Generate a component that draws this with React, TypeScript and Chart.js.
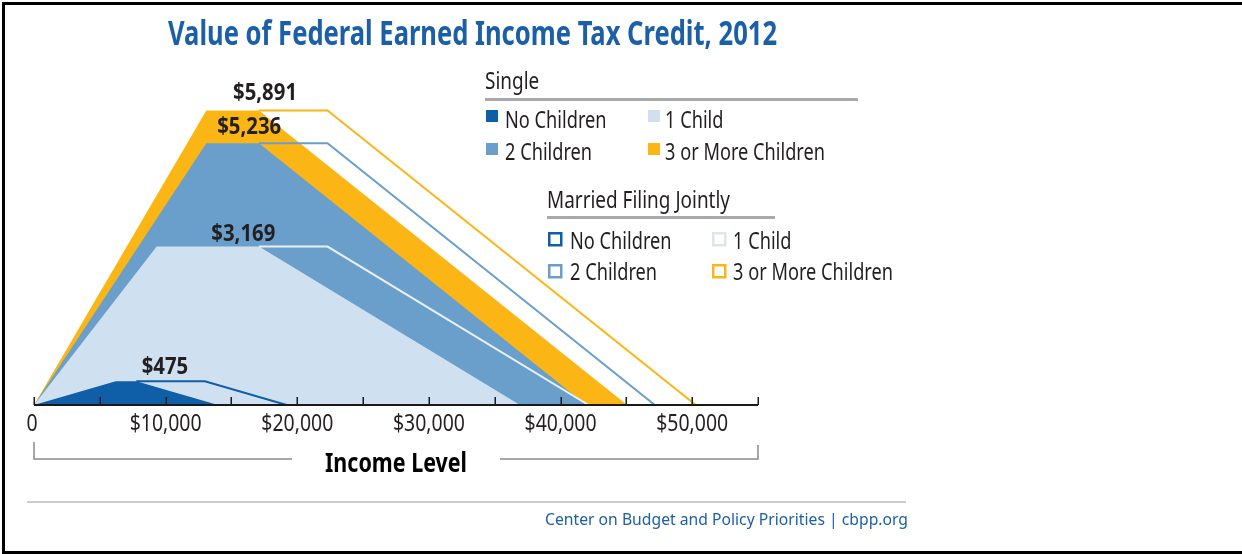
import React, { useEffect, useRef } from "react";
import { Chart, registerables } from "chart.js";

Chart.register(...registerables);

const W = 1242;
const H = 554;

// ---- Data (income in dollars, credit in dollars) ----
const singleNoChildIncome = [0, 6210, 7770, 13980];
const singleNoChildCredit = [0, 475, 475, 0];
const singleOneChildIncome = [0, 9320, 17090, 36920];
const singleOneChildCredit = [0, 3169, 3169, 0];
const singleTwoChildIncome = [0, 13090, 17090, 41952];
const singleTwoChildCredit = [0, 5236, 5236, 0];
const singleThreeChildIncome = [0, 13090, 17090, 45060];
const singleThreeChildCredit = [0, 5891, 5891, 0];

const marriedNoChildIncome = [7770, 12980, 19190];
const marriedNoChildCredit = [475, 475, 0];
const marriedOneChildIncome = [17090, 22300, 42130];
const marriedOneChildCredit = [3169, 3169, 0];
const marriedTwoChildIncome = [17090, 22300, 47162];
const marriedTwoChildCredit = [5236, 5236, 0];
const marriedThreeChildIncome = [17090, 22300, 50270];
const marriedThreeChildCredit = [5891, 5891, 0];

const tickValues = [0, 10000, 20000, 30000, 40000, 50000];
const tickLabels = ["0", "$10,000", "$20,000", "$30,000", "$40,000", "$50,000"];
const minorTickStep = 5000;
const incomeMax = 55000;
const creditMax = 6000;

const peakCredits = [5891, 5236, 3169, 475];
const peakLabels = peakCredits.map((v) => "$" + v.toLocaleString("en-US"));

const seriesNames = ["No Children", "1 Child", "2 Children", "3 or More Children"];
const filingStatuses = ["Single", "Married Filing Jointly"];
const chartTitle = "Value of Federal Earned Income Tax Credit, 2012";
const axisTitle = "Income Level";
const sourceNote = "Center on Budget and Policy Priorities | cbpp.org";

// ---- Styles ----
const DARK = "#0F5EA8";
const LIGHT = "#CFE1F0";
const MED = "#6B9FCB";
const GOLD = "#FBB616";
const LIGHT_LINE = "#E8F0F8";
const TEXT = "#231F20";
const BRAND = "#1B5FA6";
const FAMILY = '"Noto Sans", "Open Sans", sans-serif';

const pts = (xs: number[], ys: number[]) => xs.map((x, i) => ({ x, y: ys[i] }));

function fitScale(ctx: CanvasRenderingContext2D, font: string, text: string, target: number) {
  ctx.save();
  ctx.font = font;
  const w = ctx.measureText(text).width;
  ctx.restore();
  return target / w;
}

function drawText(
  ctx: CanvasRenderingContext2D,
  text: string,
  x: number,
  baseline: number,
  font: string,
  color: string,
  sx: number,
  align: "left" | "center" | "right" = "left"
) {
  ctx.save();
  ctx.font = font;
  ctx.fillStyle = color;
  ctx.textBaseline = "alphabetic";
  ctx.textAlign = "left";
  const w = ctx.measureText(text).width * sx;
  let left = x;
  if (align === "center") left = x - w / 2;
  if (align === "right") left = x - w;
  ctx.translate(left, baseline);
  ctx.scale(sx, 1);
  ctx.fillText(text, 0, 0);
  ctx.restore();
}

const decorPlugin = {
  id: "eitcDecor",
  beforeDraw(chart: any) {
    const ctx = chart.ctx as CanvasRenderingContext2D;
    ctx.save();
    ctx.fillStyle = "#ffffff";
    ctx.fillRect(0, 0, chart.width, chart.height);
    ctx.restore();
  },
  afterDatasetsDraw(chart: any) {
    const ctx = chart.ctx as CanvasRenderingContext2D;
    const xs = chart.scales.x;
    const ys = chart.scales.y;
    const y0 = ys.getPixelForValue(0);
    ctx.save();
    ctx.strokeStyle = "#1a1a1a";
    ctx.lineWidth = 2;
    ctx.beginPath();
    ctx.moveTo(xs.getPixelForValue(0), y0);
    ctx.lineTo(xs.getPixelForValue(incomeMax), y0);
    ctx.stroke();
    ctx.lineWidth = 1.5;
    for (let v = 0; v <= incomeMax; v += minorTickStep) {
      const px = Math.round(xs.getPixelForValue(v)) + 0.25;
      ctx.beginPath();
      ctx.moveTo(px, y0);
      ctx.lineTo(px, y0 - 8);
      ctx.stroke();
    }
    ctx.restore();
  },
  afterDraw(chart: any) {
    const ctx = chart.ctx as CanvasRenderingContext2D;
    const xs = chart.scales.x;
    const ys = chart.scales.y;

    // frame
    ctx.save();
    ctx.fillStyle = "#000";
    ctx.fillRect(2, 2, W - 2, 3);
    ctx.fillRect(2, 2, 3, H - 4);
    ctx.fillRect(2, H - 3, W - 2, 3);
    ctx.restore();

    // title
    const titleFont = `bold 34px ${FAMILY}`;
    drawText(ctx, chartTitle, 168, 45, titleFont, BRAND, fitScale(ctx, titleFont, chartTitle, 609));

    // peak value labels
    const valFont = `bold 23px ${FAMILY}`;
    const valSx = fitScale(ctx, valFont, peakLabels[0], 64);
    const labelIncome = [17550, 16350, 15900, 9950];
    const labelLift = [10, 9, 6, 7];
    peakCredits.forEach((c, i) => {
      drawText(ctx, peakLabels[i], xs.getPixelForValue(labelIncome[i]), ys.getPixelForValue(c) - labelLift[i], valFont, TEXT, valSx, "center");
    });

    // tick labels
    const tickFont = `24px ${FAMILY}`;
    const tickSx = fitScale(ctx, tickFont, tickLabels[1], 72);
    tickValues.forEach((v, i) => {
      drawText(ctx, tickLabels[i], xs.getPixelForValue(v) - (i === 0 ? 2 : 0), 431, tickFont, TEXT, tickSx, "center");
    });

    // bracket + axis title
    const x0 = xs.getPixelForValue(0);
    const x1 = xs.getPixelForValue(incomeMax);
    ctx.save();
    ctx.strokeStyle = "#8a8a8a";
    ctx.lineWidth = 1.5;
    ctx.beginPath();
    ctx.moveTo(x0, 442);
    ctx.lineTo(x0, 459);
    ctx.lineTo(292, 459);
    ctx.moveTo(500, 459);
    ctx.lineTo(x1, 459);
    ctx.lineTo(x1, 445);
    ctx.stroke();
    ctx.restore();
    const axFont = `bold 26px ${FAMILY}`;
    drawText(ctx, axisTitle, 396, 472, axFont, "#000", fitScale(ctx, axFont, axisTitle, 142), "center");

    // legend
    const legFont = `24px ${FAMILY}`;
    const legSx = fitScale(ctx, legFont, seriesNames[3], 160);
    const headSx = fitScale(ctx, legFont, filingStatuses[1], 183);
    const colors = [DARK, LIGHT, MED, GOLD];

    // Single
    drawText(ctx, filingStatuses[0], 485, 89, legFont, TEXT, headSx);
    ctx.save();
    ctx.strokeStyle = "#A7A9AC";
    ctx.lineWidth = 3;
    ctx.beginPath();
    ctx.moveTo(485, 99.5);
    ctx.lineTo(858, 99.5);
    ctx.moveTo(547, 217.5);
    ctx.lineTo(775, 217.5);
    ctx.stroke();
    ctx.restore();

    const sCols = [
      { sq: 486, tx: 505 },
      { sq: 648, tx: 665 },
    ];
    const sRows = [{ sq: 110, base: 128 }, { sq: 143, base: 160 }];
    seriesNames.forEach((name, i) => {
      const c = sCols[i % 2];
      const r = sRows[Math.floor(i / 2)];
      ctx.save();
      ctx.fillStyle = colors[i];
      ctx.fillRect(c.sq, r.sq, 12, 12);
      ctx.restore();
      drawText(ctx, name, c.tx, r.base, legFont, TEXT, legSx);
    });

    // Married
    drawText(ctx, filingStatuses[1], 547, 208, legFont, TEXT, headSx);
    const mCols = [
      { sq: 548, tx: 570 },
      { sq: 712, tx: 733 },
    ];
    const mRows = [{ sq: 232, base: 249 }, { sq: 264, base: 280 }];
    const mColors = [DARK, "#D9E6F2", MED, GOLD];
    seriesNames.forEach((name, i) => {
      const c = mCols[i % 2];
      const r = mRows[Math.floor(i / 2)];
      ctx.save();
      ctx.strokeStyle = mColors[i];
      ctx.lineWidth = 2.5;
      ctx.strokeRect(c.sq + 1.25, r.sq + 1.25, 12, 12);
      ctx.restore();
      drawText(ctx, name, c.tx, r.base, legFont, TEXT, legSx);
    });

    // source
    ctx.save();
    ctx.strokeStyle = "#CCCCCC";
    ctx.lineWidth = 2;
    ctx.beginPath();
    ctx.moveTo(27, 502);
    ctx.lineTo(906, 502);
    ctx.stroke();
    ctx.restore();
    const srcFont = `16px ${FAMILY}`;
    drawText(ctx, sourceNote, 908, 525, srcFont, BRAND, fitScale(ctx, srcFont, sourceNote, 363), "right");
  },
};

export default function App() {
  const ref = useRef<HTMLCanvasElement | null>(null);

  useEffect(() => {
    if (!ref.current) return;
    const fillDs = (xs: number[], ys: number[], color: string) => ({
      type: "line" as const,
      data: pts(xs, ys),
      backgroundColor: color,
      borderColor: "rgba(0,0,0,0)",
      borderWidth: 0,
      pointRadius: 0,
      fill: "origin",
      tension: 0,
    });
    const lineDs = (xs: number[], ys: number[], color: string) => ({
      type: "line" as const,
      data: pts(xs, ys),
      borderColor: color,
      backgroundColor: color,
      borderWidth: 2,
      pointRadius: 0,
      fill: false,
      tension: 0,
    });

    const chart = new Chart(ref.current, {
      type: "line",
      data: {
        datasets: [
          // married outlines (top-most)
          lineDs(marriedNoChildIncome, marriedNoChildCredit, DARK),
          lineDs(marriedOneChildIncome, marriedOneChildCredit, LIGHT_LINE),
          lineDs(marriedTwoChildIncome, marriedTwoChildCredit, MED),
          lineDs(marriedThreeChildIncome, marriedThreeChildCredit, GOLD),
          // single fills
          fillDs(singleNoChildIncome, singleNoChildCredit, DARK),
          fillDs(singleOneChildIncome, singleOneChildCredit, LIGHT),
          fillDs(singleTwoChildIncome, singleTwoChildCredit, MED),
          fillDs(singleThreeChildIncome, singleThreeChildCredit, GOLD),
        ] as any,
      },
      options: {
        responsive: false,
        animation: false,
        events: [],
        layout: { padding: { left: 34, right: W - 758, top: 105, bottom: H - 405 } },
        plugins: {
          legend: { display: false },
          tooltip: { enabled: false },
          title: { display: false },
        },
        scales: {
          x: { type: "linear", min: 0, max: incomeMax, display: false },
          y: { type: "linear", min: 0, max: creditMax, display: false },
        },
      },
      plugins: [decorPlugin],
    });
    return () => chart.destroy();
  }, []);

  return (
    <div style={{ position: "fixed", left: 0, top: 0, width: W, height: H, background: "#fff" }}>
      <canvas ref={ref} width={W} height={H} style={{ display: "block", width: W, height: H }} />
    </div>
  );
}
